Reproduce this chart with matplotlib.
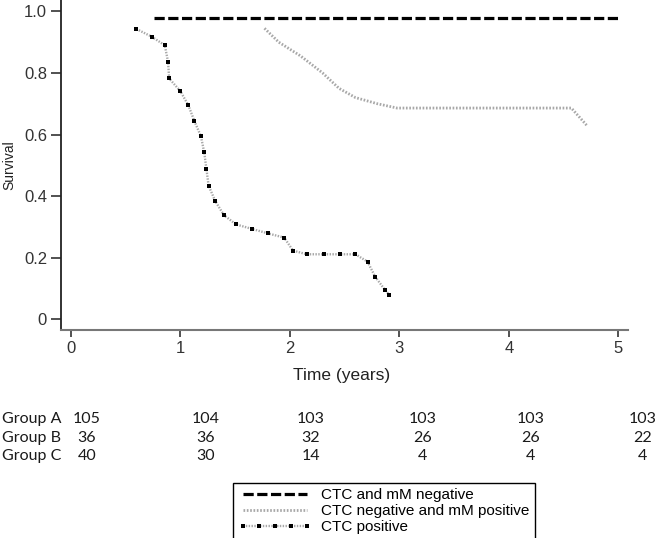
import matplotlib
matplotlib.use("Agg")
import matplotlib.pyplot as plt
from matplotlib import font_manager
from matplotlib.transforms import blended_transform_factory
import numpy as np

# ---------------- data ----------------
times_A = [0.76, 5.0]
surv_A = [0.98, 0.98]

times_B = [1.77, 1.90, 2.10, 2.30, 2.45, 2.60, 2.80, 2.98, 4.57, 4.71]
surv_B = [0.945, 0.90, 0.855, 0.80, 0.75, 0.72, 0.70, 0.686, 0.686, 0.63]

times_C = [0.60, 0.74, 0.86, 0.89, 0.90, 1.00, 1.075, 1.13, 1.19, 1.22, 1.24, 1.26,
           1.32, 1.40, 1.51, 1.66, 1.80, 1.95, 2.03, 2.155, 2.31, 2.46, 2.60, 2.71,
           2.78, 2.87, 2.91]
surv_C = [0.943, 0.918, 0.89, 0.836, 0.782, 0.742, 0.695, 0.644, 0.594, 0.542, 0.488, 0.434,
          0.384, 0.338, 0.308, 0.293, 0.279, 0.265, 0.223, 0.211, 0.211, 0.211, 0.211, 0.187,
          0.138, 0.095, 0.079]

labels = ["CTC and mM negative", "CTC negative and mM positive", "CTC positive"]

groups = ["Group A", "Group B", "Group C"]
risk_times = [0, 1, 2, 3, 4, 5]
risk_A = [105, 104, 103, 103, 103, 103]
risk_B = [36, 36, 32, 26, 26, 22]
risk_C = [40, 30, 14, 4, 4, 4]

xticks = [0, 1, 2, 3, 4, 5]
yticks = [0, 0.2, 0.4, 0.6, 0.8, 1.0]
ytick_labels = ["0", "0.2", "0.4", "0.6", "0.8", "1.0"]

# ---------------- fonts ----------------
avail = {f.name for f in font_manager.fontManager.ttflist}
narrow = "Liberation Sans Narrow" if "Liberation Sans Narrow" in avail else "Liberation Sans"
regular = "Liberation Sans"
table_font = "Lato" if "Lato" in avail else "DejaVu Sans"

W, H = 658, 538
fig = plt.figure(figsize=(W / 100, H / 100), dpi=100)
ax = fig.add_axes([61 / W, 1 - 330 / H, (628 - 61) / W, 330 / H])

ax.plot(times_A, surv_A, color="black", lw=2.3, dashes=(3.2, 1.1), label=labels[0])
ax.plot(times_B, surv_B, color="#a8a8a8", lw=2.0, ls=(0, (0.6, 0.6)), label=labels[1])
ax.plot(times_C, surv_C, color="#a8a8a8", lw=1.7, ls=(0, (0.6, 0.6)),
        marker="s", ms=2.9, mfc="black", mec="black", mew=0.0, label=labels[2])

ax.set_xlim(-0.087, 5.087)
ax.set_ylim(-0.035, 1.037)
ax.set_xticks(xticks)
ax.set_xticklabels([str(t) for t in xticks])
ax.set_yticks(yticks)
ax.set_yticklabels(ytick_labels)
for lab in ax.get_xticklabels() + ax.get_yticklabels():
    lab.set_fontfamily(narrow)
    lab.set_fontsize(12)
    lab.set_color("#222222")
ax.tick_params(axis="both", direction="out", length=5, width=1.2, colors="#333333", pad=3)
ax.tick_params(axis="y", length=7)
for s in ["top", "right"]:
    ax.spines[s].set_visible(False)
ax.spines["left"].set_color("#222222")
ax.spines["left"].set_linewidth(1.3)
ax.spines["bottom"].set_color("#777777")
ax.spines["bottom"].set_linewidth(1.5)

ax.set_xlabel("Time (years)", fontfamily=narrow, fontsize=12.5, labelpad=0, color="#222222")
ax.xaxis.set_label_coords((342 - 61) / (628 - 61), -(368 - 330) / 330)
ax.set_ylabel("Survival", fontfamily=regular, fontsize=10, color="#222222")
ax.yaxis.set_label_coords(-(61 - 16) / (628 - 61), 0.5)

# ---------------- number at risk table ----------------
table_x = [0.15, 1.23, 2.19, 3.21, 4.20, 5.22]
row_y_px = [419, 438, 456]
tr = blended_transform_factory(ax.transData, fig.transFigure)
for g, counts, ypx in zip(groups, [risk_A, risk_B, risk_C], row_y_px):
    fy = 1 - ypx / H
    fig.text(2 / W, fy, g, ha="left", va="center", fontfamily=table_font, fontsize=11.5,
             color="#1a1a1a")
    for xi, c in zip(table_x, counts):
        ax.text(xi, fy, str(c), transform=tr, ha="center", va="center",
                fontfamily=table_font, fontsize=11.5, color="#1a1a1a", clip_on=False)

# ---------------- legend ----------------
handles, labs = ax.get_legend_handles_labels()
leg = fig.legend(handles, labs, loc="upper left", bbox_to_anchor=(233 / W, 1 - 483 / H),
                 bbox_transform=fig.transFigure, frameon=True, fancybox=False,
                 edgecolor="black", framealpha=1, borderpad=0.35, borderaxespad=0.0,
                 labelspacing=0.12, handlelength=4.8, handletextpad=0.6, numpoints=5,
                 prop={"family": regular, "size": 11})
leg.get_frame().set_linewidth(1.0)

fig.savefig("out.png", dpi=100)
